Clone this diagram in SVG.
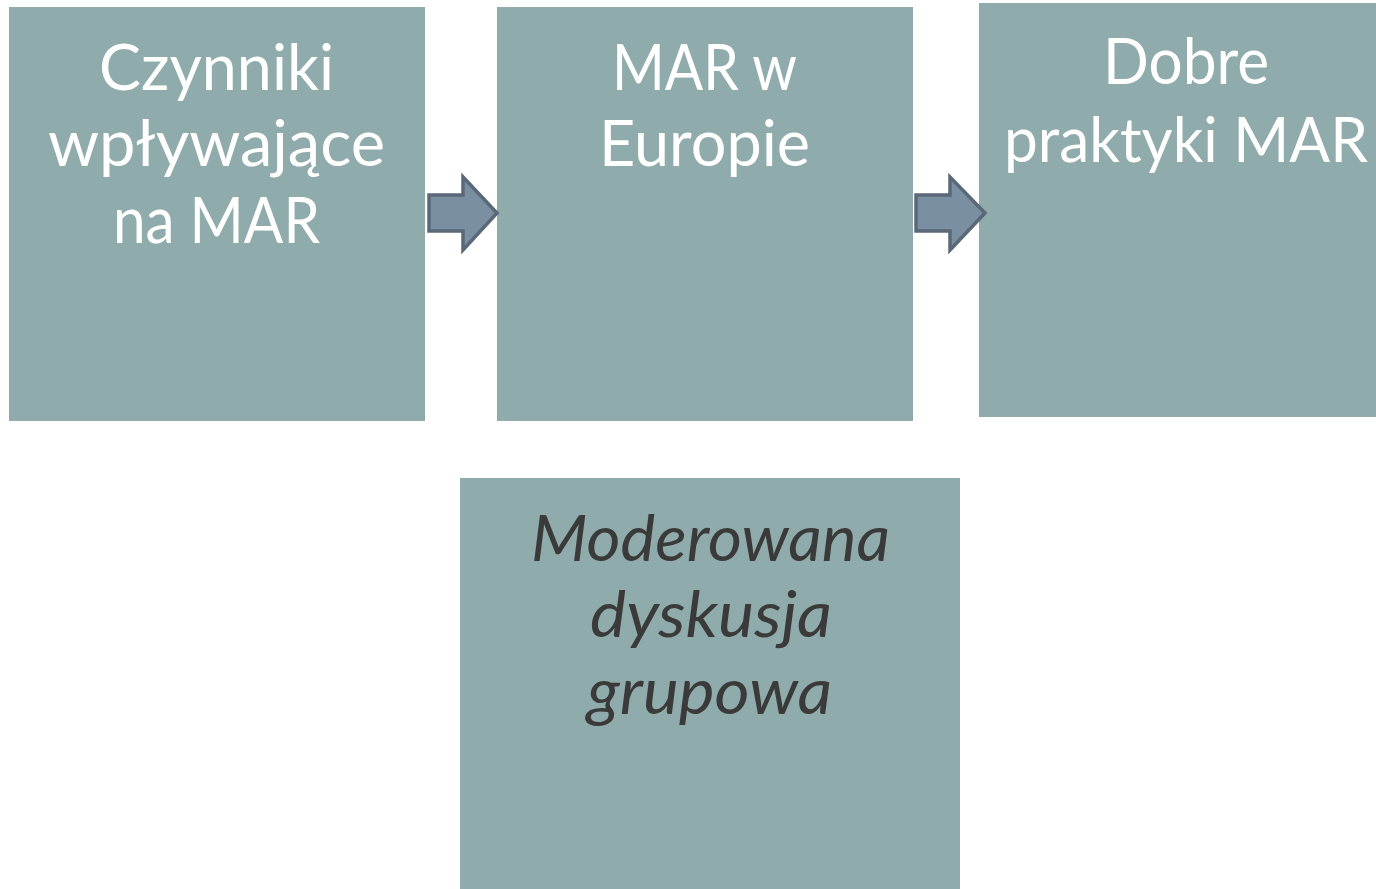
<svg xmlns="http://www.w3.org/2000/svg" width="1376" height="889" viewBox="0 0 1376 889">
<style>
.box{fill:#90abab}
.lbl{font-family:Lato,"Open Sans",sans-serif;font-size:64px;fill:#ffffff;text-anchor:middle}
.it{font-style:italic;fill:#3a3a3a}
.arr{fill:#7b8fa2;stroke:#5b6878;stroke-width:3.5;stroke-linejoin:miter}
</style>
<rect width="1376" height="889" fill="#ffffff"/>
<g id="node1"><rect class="box" x="9" y="7" width="416" height="414"/>
<text class="lbl" x="216.5" y="90" textLength="235" lengthAdjust="spacingAndGlyphs">Czynniki</text>
<text class="lbl" x="216.5" y="166" textLength="337" lengthAdjust="spacingAndGlyphs">wpływające</text>
<text class="lbl" x="216.5" y="243" textLength="207" lengthAdjust="spacingAndGlyphs">na MAR</text></g>
<g id="node2"><rect class="box" x="497" y="7" width="416" height="414"/>
<text class="lbl" x="704.5" y="90" textLength="185" lengthAdjust="spacingAndGlyphs">MAR w</text>
<text class="lbl" x="704.5" y="166" textLength="211" lengthAdjust="spacingAndGlyphs">Europie</text></g>
<g id="node3"><rect class="box" x="979" y="3" width="397" height="414"/>
<text class="lbl" x="1186" y="84" textLength="166" lengthAdjust="spacingAndGlyphs">Dobre</text>
<text class="lbl" x="1186" y="162" style="font-size:61px" textLength="364" lengthAdjust="spacingAndGlyphs">praktyki MAR</text></g>
<g id="node4"><rect class="box" x="460" y="478" width="500" height="411"/>
<text class="lbl it" x="710.5" y="561" textLength="359" lengthAdjust="spacingAndGlyphs">Moderowana</text>
<text class="lbl it" x="711" y="637" textLength="242" lengthAdjust="spacingAndGlyphs">dyskusja</text>
<text class="lbl it" x="709.5" y="714" textLength="245" lengthAdjust="spacingAndGlyphs">grupowa</text></g>
<g id="connectors">
<path class="arr" d="M429,195 H463 V177 L497,213 L463,250 V231 H429 Z"/>
<path class="arr" d="M916,195 H950 V177 L985,213 L950,250 V231 H916 Z"/>
</g>
</svg>
